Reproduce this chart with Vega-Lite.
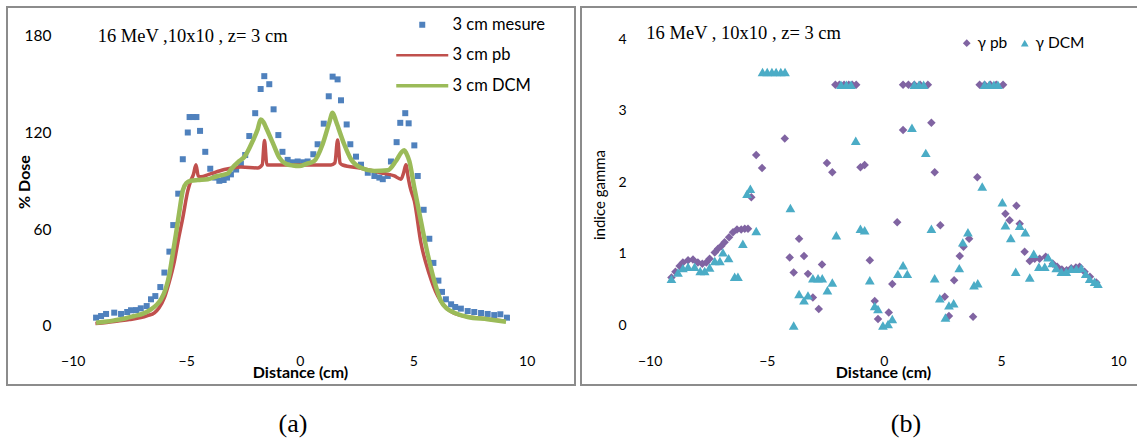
{
  "$schema": "https://vega.github.io/schema/vega-lite/v6.json",
  "padding": {"left": 6, "top": 6, "right": 0, "bottom": 0},
  "spacing": 4,
  "background": "white",
  "resolve": {"scale": {"color": "independent", "shape": "independent"}, "legend": {"color": "independent", "shape": "independent"}},
  "config": {
    "view": {"stroke": "#8C8C8C", "strokeWidth": 2},
    "font": "Lato",
    "axis": {"labelColor": "#000000", "titleColor": "#000000", "labelFont": "Lato", "titleFont": "Lato", "grid": false, "domain": false, "ticks": false, "tickSize": 0, "labelFlush": false, "labelOverlap": false},
    "legend": {"labelColor": "#000000", "labelFont": "Lato", "padding": 0}
  },
  "datasets": {
    "noteA": [{"label": "16 MeV ,10x10 , z= 3 cm"}],
    "noteB": [{"label": "16 MeV , 10x10 , z= 3 cm"}],
    "mesure": [
      {"x": -8.97, "y": 5}, {"x": -8.75, "y": 6}, {"x": -8.53, "y": 7.3}, {"x": -8.17, "y": 8.1}, {"x": -7.87, "y": 7.3},
      {"x": -7.6, "y": 8.5}, {"x": -7.43, "y": 9.6}, {"x": -7.2, "y": 9.7}, {"x": -7.0, "y": 10.8}, {"x": -6.74, "y": 12.2},
      {"x": -6.55, "y": 16.4}, {"x": -6.36, "y": 18.4}, {"x": -6.14, "y": 24}, {"x": -5.96, "y": 33}, {"x": -5.74, "y": 46},
      {"x": -5.57, "y": 62.5}, {"x": -5.35, "y": 82}, {"x": -5.15, "y": 103.4}, {"x": -4.93, "y": 120}, {"x": -4.85, "y": 129.6},
      {"x": -4.7, "y": 129.6}, {"x": -4.55, "y": 129.6}, {"x": -4.39, "y": 121}, {"x": -4.16, "y": 108}, {"x": -3.94, "y": 97.5},
      {"x": -3.72, "y": 92}, {"x": -3.54, "y": 90}, {"x": -3.35, "y": 90.5}, {"x": -3.2, "y": 92}, {"x": -3.03, "y": 94},
      {"x": -2.8, "y": 97}, {"x": -2.59, "y": 100.5}, {"x": -2.4, "y": 106}, {"x": -2.22, "y": 117.8}, {"x": -1.96, "y": 132},
      {"x": -1.72, "y": 147}, {"x": -1.56, "y": 155}, {"x": -1.34, "y": 150}, {"x": -1.15, "y": 134.4}, {"x": -0.94, "y": 118.4},
      {"x": -0.76, "y": 108}, {"x": -0.53, "y": 103}, {"x": -0.3, "y": 101.5}, {"x": -0.09, "y": 102}, {"x": 0.15, "y": 101.5},
      {"x": 0.35, "y": 102}, {"x": 0.6, "y": 106.5}, {"x": 0.79, "y": 112.7}, {"x": 1.06, "y": 125.5}, {"x": 1.28, "y": 142.5},
      {"x": 1.45, "y": 154.7}, {"x": 1.67, "y": 153}, {"x": 1.82, "y": 140}, {"x": 2.07, "y": 125}, {"x": 2.23, "y": 112.7},
      {"x": 2.48, "y": 105}, {"x": 2.7, "y": 100}, {"x": 3.0, "y": 95}, {"x": 3.29, "y": 93}, {"x": 3.51, "y": 92},
      {"x": 3.66, "y": 91}, {"x": 3.88, "y": 93}, {"x": 4.02, "y": 102}, {"x": 4.27, "y": 114}, {"x": 4.43, "y": 126},
      {"x": 4.65, "y": 132}, {"x": 4.8, "y": 125.7}, {"x": 5.05, "y": 112}, {"x": 5.2, "y": 93}, {"x": 5.46, "y": 72},
      {"x": 5.71, "y": 54}, {"x": 5.89, "y": 39}, {"x": 6.11, "y": 28}, {"x": 6.27, "y": 21}, {"x": 6.44, "y": 16.4},
      {"x": 6.67, "y": 13.3}, {"x": 6.85, "y": 11.6}, {"x": 7.1, "y": 10.6}, {"x": 7.4, "y": 9.1}, {"x": 7.69, "y": 8.5},
      {"x": 7.99, "y": 7.9}, {"x": 8.28, "y": 7.3}, {"x": 8.57, "y": 6.6}, {"x": 8.84, "y": 7.1}, {"x": 9.13, "y": 5}
    ],
    "pb": [
      {"x": -9.0, "y": 1.3}, {"x": -8.5, "y": 2}, {"x": -8.0, "y": 2.9}, {"x": -7.5, "y": 3.8}, {"x": -7.0, "y": 5},
      {"x": -6.7, "y": 6.3}, {"x": -6.4, "y": 8}, {"x": -6.2, "y": 11}, {"x": -5.96, "y": 17.4}, {"x": -5.75, "y": 27},
      {"x": -5.52, "y": 40}, {"x": -5.35, "y": 53}, {"x": -5.15, "y": 67}, {"x": -4.93, "y": 83.7}, {"x": -4.8, "y": 90},
      {"x": -4.68, "y": 94}, {"x": -4.57, "y": 100}, {"x": -4.47, "y": 93}, {"x": -4.35, "y": 92.5}, {"x": -4.0, "y": 94},
      {"x": -3.32, "y": 97}, {"x": -2.59, "y": 98.6}, {"x": -1.85, "y": 98}, {"x": -1.65, "y": 100}, {"x": -1.55, "y": 115},
      {"x": -1.45, "y": 100}, {"x": -1.34, "y": 99.8}, {"x": -0.5, "y": 99.8}, {"x": 0.06, "y": 99.8}, {"x": 0.8, "y": 99.8},
      {"x": 1.38, "y": 99.8}, {"x": 1.55, "y": 101}, {"x": 1.67, "y": 115.3}, {"x": 1.78, "y": 101}, {"x": 1.89, "y": 99.8},
      {"x": 2.7, "y": 97.8}, {"x": 3.58, "y": 95}, {"x": 4.17, "y": 93}, {"x": 4.46, "y": 91}, {"x": 4.58, "y": 95},
      {"x": 4.68, "y": 100}, {"x": 4.78, "y": 92}, {"x": 4.87, "y": 85.7}, {"x": 5.05, "y": 77.5}, {"x": 5.34, "y": 51.5},
      {"x": 5.71, "y": 32}, {"x": 6.08, "y": 18.4}, {"x": 6.37, "y": 12.2}, {"x": 6.7, "y": 8.5}, {"x": 7.1, "y": 6.4},
      {"x": 8.0, "y": 4.6}, {"x": 9.01, "y": 2.9}
    ],
    "dcm": [
      {"x": -8.97, "y": 1.9}, {"x": -8.5, "y": 2.6}, {"x": -8.17, "y": 3.3}, {"x": -7.7, "y": 4.5}, {"x": -7.29, "y": 6},
      {"x": -6.9, "y": 7.5}, {"x": -6.55, "y": 10.2}, {"x": -6.3, "y": 13}, {"x": -6.11, "y": 16.4}, {"x": -5.9, "y": 23},
      {"x": -5.74, "y": 32}, {"x": -5.6, "y": 44}, {"x": -5.45, "y": 57}, {"x": -5.3, "y": 71}, {"x": -5.15, "y": 84},
      {"x": -5.0, "y": 88.5}, {"x": -4.8, "y": 90}, {"x": -4.49, "y": 90.5}, {"x": -4.05, "y": 91}, {"x": -3.61, "y": 93},
      {"x": -3.17, "y": 94.5}, {"x": -3.03, "y": 97}, {"x": -2.66, "y": 102.3}, {"x": -2.44, "y": 104.8}, {"x": -2.07, "y": 114.7},
      {"x": -1.85, "y": 122}, {"x": -1.72, "y": 128}, {"x": -1.6, "y": 126.5}, {"x": -1.48, "y": 123}, {"x": -1.19, "y": 113.7},
      {"x": -0.9, "y": 104.4}, {"x": -0.6, "y": 100.5}, {"x": -0.3, "y": 99.5}, {"x": -0.02, "y": 99.2}, {"x": 0.3, "y": 100.5},
      {"x": 0.64, "y": 102.3}, {"x": 1.01, "y": 112.7}, {"x": 1.3, "y": 126}, {"x": 1.45, "y": 132.3}, {"x": 1.6, "y": 127},
      {"x": 1.7, "y": 123}, {"x": 1.96, "y": 112.7}, {"x": 2.26, "y": 103.4}, {"x": 2.7, "y": 98.1}, {"x": 3.29, "y": 96.1},
      {"x": 3.88, "y": 96.5}, {"x": 4.24, "y": 102.3}, {"x": 4.5, "y": 108}, {"x": 4.61, "y": 109}, {"x": 4.7, "y": 107},
      {"x": 4.83, "y": 102.3}, {"x": 5.05, "y": 85.7}, {"x": 5.34, "y": 65}, {"x": 5.64, "y": 44.3}, {"x": 5.93, "y": 27.8},
      {"x": 6.22, "y": 15.3}, {"x": 6.5, "y": 10.5}, {"x": 6.81, "y": 8.1}, {"x": 7.4, "y": 5.4}, {"x": 8.28, "y": 4},
      {"x": 9.09, "y": 2.5}
    ],
    "gpb": [
      {"x": -9.07, "y": 0.67}, {"x": -8.9, "y": 0.75}, {"x": -8.72, "y": 0.83}, {"x": -8.58, "y": 0.88}, {"x": -8.36, "y": 0.91},
      {"x": -8.15, "y": 0.92}, {"x": -7.94, "y": 0.88}, {"x": -7.75, "y": 0.86}, {"x": -7.58, "y": 0.88}, {"x": -7.44, "y": 0.93},
      {"x": -7.22, "y": 1.02}, {"x": -7.08, "y": 1.07}, {"x": -6.94, "y": 1.11}, {"x": -6.8, "y": 1.16}, {"x": -6.61, "y": 1.23},
      {"x": -6.44, "y": 1.3}, {"x": -6.27, "y": 1.34}, {"x": -6.09, "y": 1.34}, {"x": -5.94, "y": 1.35}, {"x": -5.8, "y": 1.35},
      {"x": -5.66, "y": 1.79}, {"x": -5.45, "y": 2.38}, {"x": -5.2, "y": 2.2}, {"x": -4.23, "y": 2.61}, {"x": -4.02, "y": 0.95},
      {"x": -3.85, "y": 0.74}, {"x": -3.62, "y": 1.21}, {"x": -3.41, "y": 0.97}, {"x": -3.24, "y": 0.72}, {"x": -3.03, "y": 0.39},
      {"x": -2.78, "y": 0.23}, {"x": -2.64, "y": 0.85}, {"x": -2.43, "y": 2.27}, {"x": -2.2, "y": 2.14}, {"x": -2.07, "y": 3.36},
      {"x": -1.9, "y": 3.36}, {"x": -1.7, "y": 3.36}, {"x": -1.5, "y": 3.36}, {"x": -1.35, "y": 3.36}, {"x": -1.18, "y": 3.36},
      {"x": -1.0, "y": 2.21}, {"x": -0.82, "y": 2.24}, {"x": -0.6, "y": 0.91}, {"x": -0.39, "y": 0.34}, {"x": -0.25, "y": 0.09},
      {"x": 0.21, "y": 0.18}, {"x": 0.36, "y": 0.58}, {"x": 0.57, "y": 1.44}, {"x": 0.82, "y": 2.73}, {"x": 0.82, "y": 3.36},
      {"x": 1.05, "y": 3.36}, {"x": 1.3, "y": 3.36}, {"x": 1.55, "y": 3.36}, {"x": 1.88, "y": 3.36}, {"x": 2.03, "y": 2.83},
      {"x": 2.17, "y": 2.14}, {"x": 2.41, "y": 1.4}, {"x": 2.6, "y": 0.4}, {"x": 2.78, "y": 0.13}, {"x": 3.0, "y": 0.63},
      {"x": 3.24, "y": 0.97}, {"x": 3.4, "y": 1.1}, {"x": 3.64, "y": 1.21}, {"x": 3.81, "y": 0.12}, {"x": 3.99, "y": 2.07},
      {"x": 4.09, "y": 3.36}, {"x": 4.3, "y": 3.36}, {"x": 4.55, "y": 3.36}, {"x": 4.8, "y": 3.36}, {"x": 5.09, "y": 3.36},
      {"x": 5.19, "y": 1.56}, {"x": 5.37, "y": 1.47}, {"x": 5.66, "y": 1.67}, {"x": 5.8, "y": 1.42}, {"x": 6.01, "y": 1.03},
      {"x": 6.23, "y": 0.9}, {"x": 6.44, "y": 0.93}, {"x": 6.65, "y": 0.93}, {"x": 6.91, "y": 0.96}, {"x": 7.22, "y": 0.86},
      {"x": 7.4, "y": 0.82}, {"x": 7.6, "y": 0.78}, {"x": 7.8, "y": 0.77}, {"x": 8.0, "y": 0.8}, {"x": 8.2, "y": 0.81},
      {"x": 8.36, "y": 0.82}, {"x": 8.57, "y": 0.75}, {"x": 8.8, "y": 0.68}, {"x": 9.07, "y": 0.6}
    ],
    "gdcm": [
      {"x": -9.07, "y": 0.65}, {"x": -8.79, "y": 0.74}, {"x": -8.58, "y": 0.8}, {"x": -8.36, "y": 0.82}, {"x": -8.08, "y": 0.82},
      {"x": -7.84, "y": 0.76}, {"x": -7.65, "y": 0.76}, {"x": -7.44, "y": 0.81}, {"x": -7.22, "y": 0.9}, {"x": -7.0, "y": 0.9},
      {"x": -6.87, "y": 1.02}, {"x": -6.63, "y": 0.94}, {"x": -6.37, "y": 0.68}, {"x": -6.23, "y": 0.68}, {"x": -6.02, "y": 1.14},
      {"x": -5.84, "y": 1.84}, {"x": -5.7, "y": 1.91}, {"x": -5.45, "y": 1.32}, {"x": -5.18, "y": 3.54}, {"x": -4.98, "y": 3.54},
      {"x": -4.78, "y": 3.54}, {"x": -4.6, "y": 3.54}, {"x": -4.4, "y": 3.54}, {"x": -4.22, "y": 3.54}, {"x": -3.99, "y": 1.64},
      {"x": -3.85, "y": 0.0}, {"x": -3.62, "y": 0.44}, {"x": -3.41, "y": 0.35}, {"x": -3.24, "y": 0.42}, {"x": -3.03, "y": 0.66},
      {"x": -2.81, "y": 0.66}, {"x": -2.63, "y": 0.66}, {"x": -2.41, "y": 0.49}, {"x": -2.2, "y": 0.6}, {"x": -2.03, "y": 1.26},
      {"x": -1.83, "y": 3.36}, {"x": -1.6, "y": 3.36}, {"x": -1.4, "y": 3.36}, {"x": -1.2, "y": 2.58}, {"x": -1.0, "y": 1.35},
      {"x": -0.82, "y": 1.33}, {"x": -0.6, "y": 0.63}, {"x": -0.39, "y": 0.27}, {"x": -0.25, "y": 0.23}, {"x": -0.04, "y": 0.0},
      {"x": 0.18, "y": 0.02}, {"x": 0.36, "y": 0.09}, {"x": 0.6, "y": 0.72}, {"x": 0.82, "y": 0.84}, {"x": 1.0, "y": 0.72},
      {"x": 1.2, "y": 2.76}, {"x": 1.3, "y": 3.36}, {"x": 1.5, "y": 3.36}, {"x": 1.7, "y": 3.36}, {"x": 1.79, "y": 2.41},
      {"x": 2.03, "y": 1.35}, {"x": 2.17, "y": 0.66}, {"x": 2.39, "y": 0.38}, {"x": 2.63, "y": 0.11}, {"x": 2.78, "y": 0.28},
      {"x": 2.98, "y": 0.31}, {"x": 3.22, "y": 0.8}, {"x": 3.37, "y": 1.16}, {"x": 3.59, "y": 1.3}, {"x": 3.85, "y": 0.56},
      {"x": 4.01, "y": 0.59}, {"x": 4.2, "y": 1.94}, {"x": 4.3, "y": 3.36}, {"x": 4.5, "y": 3.36}, {"x": 4.7, "y": 3.36},
      {"x": 4.87, "y": 3.36}, {"x": 5.06, "y": 1.72}, {"x": 5.19, "y": 1.4}, {"x": 5.42, "y": 1.22}, {"x": 5.63, "y": 0.75},
      {"x": 5.8, "y": 1.39}, {"x": 6.04, "y": 1.3}, {"x": 6.23, "y": 0.67}, {"x": 6.4, "y": 1.0}, {"x": 6.62, "y": 0.82},
      {"x": 6.87, "y": 0.82}, {"x": 7.01, "y": 0.95}, {"x": 7.19, "y": 0.87}, {"x": 7.36, "y": 0.8}, {"x": 7.58, "y": 0.75},
      {"x": 7.79, "y": 0.75}, {"x": 8.0, "y": 0.79}, {"x": 8.22, "y": 0.79}, {"x": 8.43, "y": 0.8}, {"x": 8.62, "y": 0.72},
      {"x": 8.79, "y": 0.65}, {"x": 9.0, "y": 0.61}, {"x": 9.14, "y": 0.58}
    ]
  },
  "hconcat": [
    {
      "width": 568,
      "height": 378,
      "title": {"text": "(a)", "orient": "bottom", "anchor": "middle", "font": "Liberation Serif", "fontSize": 26, "fontWeight": "normal", "color": "#000000", "baseline": "alphabetic", "offset": 47, "dx": 2},
      "layer": [
        {
          "mark": {"type": "rule", "color": "#868686", "strokeWidth": 1},
          "encoding": {
            "x": {"datum": -10, "type": "quantitative", "scale": {"domain": [-12.894, 12.128], "nice": false, "zero": false},
              "axis": {"values": [-10, -5, 0, 5, 10], "offset": -59.3, "labelPadding": 29, "labelFontSize": 14, "title": "Distance (cm)", "titleFontSize": 16, "titleFontWeight": "bold", "titleX": 293, "titleY": 52, "titleBaseline": "alphabetic", "titleAlign": "center"}},
            "x2": {"datum": 10},
            "y": {"datum": 0, "type": "quantitative", "scale": {"domain": [-36.83, 197.95], "nice": false, "zero": false},
              "axis": {"values": [0, 60, 120, 180], "offset": -44, "labelPadding": 0, "labelFontSize": 15.5, "title": "% Dose", "titleFontSize": 16, "titleFontWeight": "bold", "titleX": -22, "titleY": 174.5, "titleAngle": 270, "titleBaseline": "alphabetic", "titleAlign": "center"}}
          }
        },
        {
          "mark": {"type": "rule", "color": "#868686", "strokeWidth": 1},
          "encoding": {
            "x": {"datum": 0, "type": "quantitative", "scale": {"domain": [-12.894, 12.128], "nice": false, "zero": false}},
            "y": {"datum": 0, "type": "quantitative", "scale": {"domain": [-36.83, 197.95], "nice": false, "zero": false}},
            "y2": {"datum": 180}
          }
        },
        {
          "data": {"name": "noteA"},
          "mark": {"type": "text", "font": "Liberation Serif", "fontSize": 18.5, "align": "left", "baseline": "alphabetic", "color": "#000000"},
          "encoding": {
            "x": {"datum": -8.9, "type": "quantitative", "scale": {"domain": [-12.894, 12.128], "nice": false, "zero": false}},
            "y": {"datum": 176.5, "type": "quantitative", "scale": {"domain": [-36.83, 197.95], "nice": false, "zero": false}},
            "text": {"field": "label", "type": "nominal"}
          }
        },
        {
          "data": {"name": "mesure"},
          "mark": {"type": "point", "filled": true, "opacity": 1, "size": 36, "shape": "square"},
          "encoding": {
            "x": {"field": "x", "type": "quantitative", "scale": {"domain": [-12.894, 12.128], "nice": false, "zero": false}},
            "y": {"field": "y", "type": "quantitative", "scale": {"domain": [-36.83, 197.95], "nice": false, "zero": false}},
            "color": {"datum": "3 cm mesure", "type": "nominal",
              "scale": {"domain": ["3 cm mesure", "3 cm pb", "3 cm DCM"], "range": ["#4F81BD", "#C0504D", "#9BBB59"]},
              "legend": {"orient": "none", "direction": "vertical", "legendX": 407, "legendY": 9.5, "title": null, "symbolSize": 36, "labelFontSize": 16.5, "labelOffset": 22, "rowPadding": 13.5,
                "encode": {"symbols": {"update": {
                  "shape": {"signal": "datum.value === '3 cm mesure' ? 'square' : 'stroke'"},
                  "size": {"signal": "datum.value === '3 cm mesure' ? 36 : 2704"},
                  "strokeWidth": {"signal": "datum.value === '3 cm mesure' ? 0 : (datum.value === '3 cm DCM' ? 3.5 : 2.5)"},
                  "fill": {"signal": "datum.value === '3 cm mesure' ? '#4F81BD' : 'transparent'"},
                  "stroke": {"signal": "datum.value === '3 cm pb' ? '#C0504D' : (datum.value === '3 cm DCM' ? '#9BBB59' : '#4F81BD')"},
                  "opacity": {"value": 1}
                }}}}}
          }
        },
        {
          "data": {"name": "pb"},
          "mark": {"type": "line", "strokeWidth": 3.5, "interpolate": "monotone"},
          "encoding": {
            "x": {"field": "x", "type": "quantitative", "scale": {"domain": [-12.894, 12.128], "nice": false, "zero": false}},
            "y": {"field": "y", "type": "quantitative", "scale": {"domain": [-36.83, 197.95], "nice": false, "zero": false}},
            "color": {"datum": "3 cm pb", "type": "nominal",
              "legend": {"orient": "none", "direction": "vertical", "legendX": 407, "legendY": 9.5, "title": null, "symbolSize": 36, "labelFontSize": 16.5, "labelOffset": 22, "rowPadding": 13.5,
                "encode": {"symbols": {"update": {
                  "shape": {"signal": "datum.value === '3 cm mesure' ? 'square' : 'stroke'"},
                  "size": {"signal": "datum.value === '3 cm mesure' ? 36 : 2704"},
                  "strokeWidth": {"signal": "datum.value === '3 cm mesure' ? 0 : (datum.value === '3 cm DCM' ? 3.5 : 2.5)"},
                  "fill": {"signal": "datum.value === '3 cm mesure' ? '#4F81BD' : 'transparent'"},
                  "stroke": {"signal": "datum.value === '3 cm pb' ? '#C0504D' : (datum.value === '3 cm DCM' ? '#9BBB59' : '#4F81BD')"},
                  "opacity": {"value": 1}
                }}}}}
          }
        },
        {
          "data": {"name": "dcm"},
          "mark": {"type": "line", "strokeWidth": 4.5, "interpolate": "monotone"},
          "encoding": {
            "x": {"field": "x", "type": "quantitative", "scale": {"domain": [-12.894, 12.128], "nice": false, "zero": false}},
            "y": {"field": "y", "type": "quantitative", "scale": {"domain": [-36.83, 197.95], "nice": false, "zero": false}},
            "color": {"datum": "3 cm DCM", "type": "nominal",
              "legend": {"orient": "none", "direction": "vertical", "legendX": 407, "legendY": 9.5, "title": null, "symbolSize": 36, "labelFontSize": 16.5, "labelOffset": 22, "rowPadding": 13.5,
                "encode": {"symbols": {"update": {
                  "shape": {"signal": "datum.value === '3 cm mesure' ? 'square' : 'stroke'"},
                  "size": {"signal": "datum.value === '3 cm mesure' ? 36 : 2704"},
                  "strokeWidth": {"signal": "datum.value === '3 cm mesure' ? 0 : (datum.value === '3 cm DCM' ? 3.5 : 2.5)"},
                  "fill": {"signal": "datum.value === '3 cm mesure' ? '#4F81BD' : 'transparent'"},
                  "stroke": {"signal": "datum.value === '3 cm pb' ? '#C0504D' : (datum.value === '3 cm DCM' ? '#9BBB59' : '#4F81BD')"},
                  "opacity": {"value": 1}
                }}}}}
          }
        }
      ]
    },
    {
      "width": 558,
      "height": 378,
      "title": {"text": "(b)", "orient": "bottom", "anchor": "middle", "font": "Liberation Serif", "fontSize": 26, "fontWeight": "normal", "color": "#000000", "baseline": "alphabetic", "offset": 47, "dx": 46},
      "layer": [
        {
          "mark": {"type": "rule", "color": "#868686", "strokeWidth": 1},
          "encoding": {
            "x": {"datum": -10, "type": "quantitative", "scale": {"domain": [-12.931, 10.894], "nice": false, "zero": false},
              "axis": {"values": [-10, -5, 0, 5, 10], "offset": -59.6, "labelPadding": 29, "labelFontSize": 14, "title": "Distance (cm)", "titleFontSize": 16, "titleFontWeight": "bold", "titleX": 302, "titleY": 52, "titleBaseline": "alphabetic", "titleAlign": "center"}},
            "x2": {"datum": 10},
            "y": {"datum": 0, "type": "quantitative", "scale": {"domain": [-0.832, 4.447], "nice": false, "zero": false},
              "axis": {"values": [0, 1, 2, 3, 4], "format": "d", "offset": -45, "labelPadding": 0, "labelFontSize": 14, "title": "indice gamma", "titleFontSize": 15, "titleFontWeight": "normal", "titleX": -22, "titleY": 187.5, "titleAngle": 270, "titleBaseline": "alphabetic", "titleAlign": "center"}}
          }
        },
        {
          "mark": {"type": "rule", "color": "#868686", "strokeWidth": 1},
          "encoding": {
            "x": {"datum": 0, "type": "quantitative", "scale": {"domain": [-12.931, 10.894], "nice": false, "zero": false}},
            "y": {"datum": 0, "type": "quantitative", "scale": {"domain": [-0.832, 4.447], "nice": false, "zero": false}},
            "y2": {"datum": 4}
          }
        },
        {
          "data": {"name": "noteB"},
          "mark": {"type": "text", "font": "Liberation Serif", "fontSize": 18.5, "align": "left", "baseline": "alphabetic", "color": "#000000"},
          "encoding": {
            "x": {"datum": -10.14, "type": "quantitative", "scale": {"domain": [-12.931, 10.894], "nice": false, "zero": false}},
            "y": {"datum": 4, "type": "quantitative", "scale": {"domain": [-0.832, 4.447], "nice": false, "zero": false}},
            "text": {"field": "label", "type": "nominal"}
          }
        },
        {
          "data": {"name": "gpb"},
          "mark": {"type": "point", "filled": true, "opacity": 1, "size": 72},
          "encoding": {
            "x": {"field": "x", "type": "quantitative", "scale": {"domain": [-12.931, 10.894], "nice": false, "zero": false}},
            "y": {"field": "y", "type": "quantitative", "scale": {"domain": [-0.832, 4.447], "nice": false, "zero": false}},
            "color": {"datum": "γ pb", "type": "nominal",
              "scale": {"domain": ["γ pb", "γ DCM"], "range": ["#8064A2", "#4BACC6"]},
              "legend": {"orient": "none", "direction": "horizontal", "legendX": 378, "legendY": 28, "title": null, "symbolSize": 60, "labelFontSize": 15.5, "labelOffset": 3, "columnPadding": 9, "symbolOpacity": 1}},
            "shape": {"datum": "γ pb", "type": "nominal",
              "scale": {"domain": ["γ pb", "γ DCM"], "range": ["diamond", "triangle-up"]},
              "legend": {"orient": "none", "direction": "horizontal", "legendX": 378, "legendY": 28, "title": null, "symbolSize": 60, "labelFontSize": 15.5, "labelOffset": 3, "columnPadding": 9, "symbolOpacity": 1}}
          }
        },
        {
          "data": {"name": "gdcm"},
          "mark": {"type": "point", "filled": true, "opacity": 1, "size": 95},
          "encoding": {
            "x": {"field": "x", "type": "quantitative", "scale": {"domain": [-12.931, 10.894], "nice": false, "zero": false}},
            "y": {"field": "y", "type": "quantitative", "scale": {"domain": [-0.832, 4.447], "nice": false, "zero": false}},
            "color": {"datum": "γ DCM", "type": "nominal"},
            "shape": {"datum": "γ DCM", "type": "nominal"}
          }
        }
      ]
    }
  ]
}
